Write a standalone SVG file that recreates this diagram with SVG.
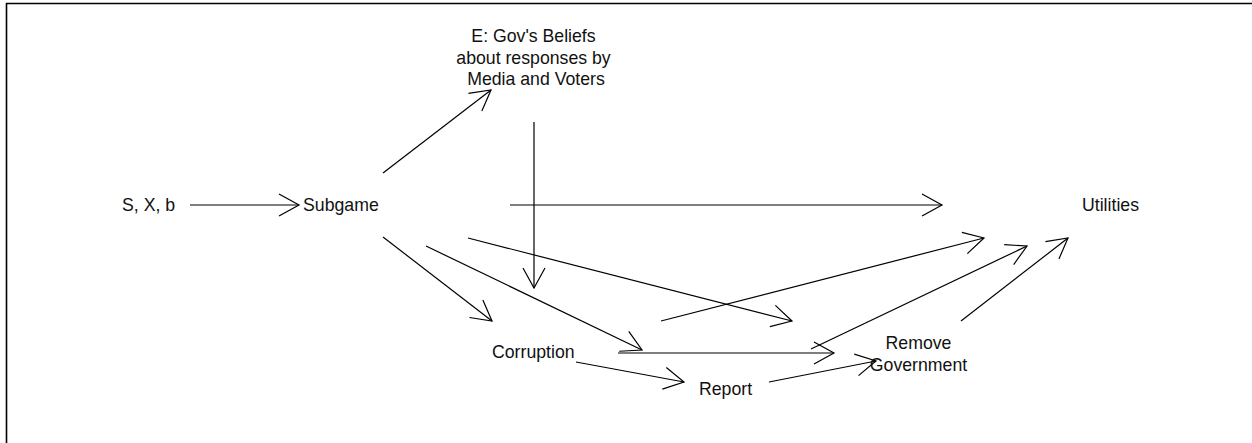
<svg xmlns="http://www.w3.org/2000/svg" width="1252" height="443" viewBox="0 0 1252 443">
<style>
.lbl{font-family:"Liberation Sans",Arial,sans-serif;font-size:17.7px;fill:#111}
.c{text-anchor:middle}
.edge{stroke:#000;stroke-width:1.2;fill:none}
</style>
<defs>
<marker id="arr" viewBox="-22 -12 24 24" markerWidth="24" markerHeight="24" refX="0" refY="0" markerUnits="userSpaceOnUse" orient="auto">
<path d="M-20,-11 L0,0 L-20,11" fill="none" stroke="#000" stroke-width="1.2"/>
</marker>
</defs>
<rect width="1252" height="443" fill="#fff"/>
<path d="M6.5,443 V3.5 H1252" fill="none" stroke="#000" stroke-width="1.6"/>
<g id="connectors" class="edge" marker-end="url(#arr)">
<line x1="190" y1="205" x2="299" y2="205"/>
<line x1="383" y1="173" x2="491" y2="90"/>
<line x1="534" y1="122" x2="534" y2="288"/>
<line x1="510" y1="205" x2="942" y2="205"/>
<line x1="383" y1="237" x2="492" y2="321"/>
<line x1="426" y1="246" x2="642" y2="350"/>
<line x1="468" y1="238" x2="792" y2="321"/>
<line x1="661" y1="321" x2="984" y2="238"/>
<line x1="618" y1="353" x2="834" y2="353"/>
<line x1="811" y1="349" x2="1027" y2="246"/>
<line x1="576" y1="362" x2="684" y2="382"/>
<line x1="769" y1="382" x2="876" y2="361"/>
<line x1="961" y1="321" x2="1068" y2="238"/>
</g>
<g id="node-sxb"><text class="lbl" x="122" y="211">S, X, b</text></g>
<g id="node-subgame"><text class="lbl" x="303" y="211">Subgame</text></g>
<g id="node-beliefs">
<text class="lbl c" x="533.5" y="42">E: Gov's Beliefs</text>
<text class="lbl c" x="533.5" y="63.5">about responses by</text>
<text class="lbl c" x="536" y="85">Media and Voters</text>
</g>
<g id="node-utilities"><text class="lbl" x="1082" y="211">Utilities</text></g>
<g id="node-corruption"><text class="lbl" x="492" y="358">Corruption</text></g>
<g id="node-report"><text class="lbl" x="699" y="395">Report</text></g>
<g id="node-remove">
<text class="lbl c" x="918.5" y="349">Remove</text>
<text class="lbl c" x="918.5" y="371">Government</text>
</g>
</svg>
